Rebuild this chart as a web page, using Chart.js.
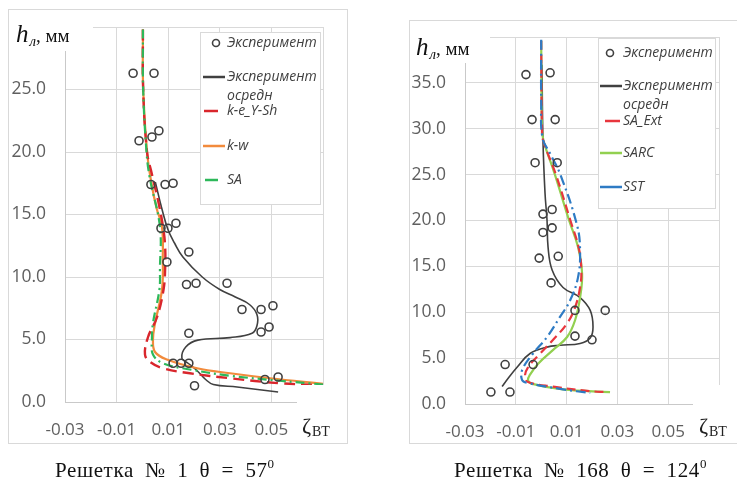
<!DOCTYPE html>
<html>
<head>
<meta charset="utf-8">
<script src="https://cdn.jsdelivr.net/npm/chart.js@4/dist/chart.umd.min.js"></script>
<style>
  html, body { margin: 0; padding: 0; background: #fff; width: 737px; height: 483px; overflow: hidden; }
  canvas { position: absolute; }
  .frame { position: absolute; border: 1px solid #d9d9d9; box-sizing: border-box; pointer-events: none; }
  .cap { position: absolute; top: 460px; line-height: 21px; font-family: "Liberation Serif", serif; font-size: 21px;
         letter-spacing: 0.6px; word-spacing: 5.5px; color: #111; white-space: nowrap; }
  .cap sup { font-size: 13px; line-height: 0; position: relative; top: -1px; }
</style>
</head>
<body>
<canvas id="left" width="339" height="434" style="left:8px;top:9px"></canvas>
<div class="frame" style="left:8px;top:9px;width:340px;height:435px"></div>
<canvas id="right" width="328" height="424" style="left:409px;top:20px"></canvas>
<div class="frame" style="left:409px;top:20px;width:340px;height:424px"></div>
<div class="cap" style="left:55px">Решетка № 1 θ = 57<sup>0</sup></div>
<div class="cap" style="left:454px">Решетка № 168 θ = 124<sup>0</sup></div>

<script>
// ---------- shared axis ticks ----------
const zetaTicks = [-0.03, -0.01, 0.01, 0.03, 0.05, 0.07];
const leftHeightTicks = [0, 5, 10, 15, 20, 25, 30];
const rightHeightTicks = [0, 5, 10, 15, 20, 25, 30, 35, 40];

// ---------- grid No.1, theta = 57 ----------
const leftNames = ['Эксперимент', 'Эксперимент\nосредн', 'k-e_Y-Sh', 'k-w', 'SA'];

const leftExpZeta = [-0.0036, 0.0045, -0.0013, 0.0037, 0.0064, 0.0033, 0.0088, 0.0119, 0.013, 0.0072, 0.0099,
  0.018, 0.0095, 0.0171, 0.0208, 0.0328, 0.0386, 0.046, 0.0506, 0.0491, 0.046, 0.018, 0.0119, 0.015, 0.018,
  0.0475, 0.0526, 0.0202];
const leftExpH = [26.3, 26.3, 20.9, 21.2, 21.7, 17.4, 17.4, 17.5, 14.3, 13.9, 13.9,
  12.0, 11.2, 9.4, 9.5, 9.5, 7.4, 7.4, 7.7, 6.0, 5.6, 5.5, 3.1, 3.1, 3.1,
  1.8, 2.0, 1.3];

const leftAvgZeta = [0.005, 0.0075, 0.0099, 0.0125, 0.0157, 0.0232, 0.030, 0.036, 0.0415, 0.0444, 0.0444, 0.0425,
  0.034, 0.0215, 0.0168, 0.0153, 0.0177, 0.0212, 0.0245, 0.0275, 0.0367, 0.0526];
const leftAvgH = [17.6, 15.5, 13.8, 12.7, 11.6, 10.0, 9.0, 8.4, 7.8, 7.0, 6.1, 5.5,
  5.15, 4.95, 4.4, 3.5, 3.1, 2.5, 1.8, 1.4, 1.2, 0.8];

const keZeta = [0.0002, 0.0003, 0.0018, 0.0036, 0.0062, 0.0080, 0.0088, 0.0088, 0.0082, 0.0057, 0.0022, 0.0010,
  0.0030, 0.0080, 0.0184, 0.034, 0.0533, 0.070];
const keH = [29.8, 25, 20, 18.3, 16, 14, 12.5, 10.6, 9.0, 6.8, 5.2, 3.8,
  3.2, 2.7, 2.3, 1.9, 1.5, 1.35];

const kwZeta = [0.0002, 0.0003, 0.0018, 0.0035, 0.0055, 0.0076, 0.0079, 0.0076, 0.0049, 0.0041, 0.0049,
  0.0095, 0.0212, 0.034, 0.0495, 0.070];
const kwH = [29.8, 25, 20, 17.5, 15.5, 14.0, 11.5, 9.0, 6.3, 5.0, 4.0,
  3.4, 2.7, 2.3, 1.9, 1.45];

const saZeta = [0.0002, 0.0003, 0.0016, 0.0028, 0.0068, 0.0068, 0.0066, 0.0041, 0.0037, 0.0041,
  0.0080, 0.0184, 0.034, 0.0533, 0.070];
const saH = [29.8, 25, 20, 18, 14, 10.6, 9.0, 6.3, 5.0, 3.8,
  3.1, 2.6, 2.1, 1.7, 1.4];

// ---------- grid No.168, theta = 124 ----------
const rightNames = ['Эксперимент', 'Эксперимент\nосредн', 'SA_Ext', 'SARC', 'SST'];

const rightExpZeta = [-0.006, 0.0035, -0.0036, 0.0055, -0.0024, 0.0063, 0.0007, 0.0043, 0.0007, 0.0043,
  -0.0008, 0.0067, 0.0039, 0.0133, 0.0252, 0.0133, 0.020, -0.0142, -0.0032, -0.0198, -0.0123];
const rightExpH = [35.9, 36.1, 31.0, 31.0, 26.3, 26.3, 20.7, 21.2, 18.7, 19.2,
  15.9, 16.1, 13.2, 10.2, 10.2, 7.4, 7.0, 4.3, 4.3, 1.3, 1.3];

const rightAvgZeta = [0.0003, 0.0007, 0.0015, 0.0023, 0.0027, 0.0043, 0.0086, 0.0153, 0.0193, 0.0204, 0.0193,
  0.0153, 0.0074, 0.0023, -0.0044, -0.0095, -0.013, -0.0154];
const rightAvgH = [37, 28.7, 23, 20, 17.1, 14.6, 12.7, 11.6, 10.2, 8.4, 7.2,
  6.6, 6.4, 6.2, 5.5, 4.0, 2.8, 1.9];

const saExtZeta = [0.0, 0.0003, 0.0008, 0.0058, 0.0115, 0.0148, 0.0158, 0.0153, 0.0133, 0.0102, 0.0047,
  -0.0004, -0.0052, -0.0064, -0.0052, 0.0047, 0.0193, 0.026];
const saExtH = [39.6, 30, 28.7, 25, 20, 17, 14.5, 12.7, 10.5, 8.8, 7.0,
  5.5, 4.0, 3.0, 2.4, 1.9, 1.4, 1.3];

const sarcZeta = [0.0, 0.0003, 0.0009, 0.0054, 0.0110, 0.0145, 0.0161, 0.0153, 0.0133, 0.0102, 0.0047,
  -0.0012, -0.0044, -0.0052, -0.0035, 0.0086, 0.0271];
const sarcH = [39.6, 30, 28.7, 25, 20, 17.1, 14.2, 11.6, 9.1, 7.3, 5.9,
  4.4, 3.2, 2.6, 2.2, 1.6, 1.3];

const sstZeta = [0.0, 0.0, 0.0005, 0.0035, 0.0074, 0.0141, 0.0153, 0.0145, 0.0114, 0.0074, 0.0023,
  -0.0032, -0.0075, -0.0075, -0.0055, 0.0086, 0.0193];
const sstH = [39.7, 33, 29, 27.3, 25.1, 19.5, 16.7, 13.8, 11.3, 9.5, 7.3,
  5.5, 3.7, 2.6, 2.3, 1.6, 1.2];

// ---------- helpers ----------
const pairs = (xs, ys) => xs.map((x, i) => ({ x: x, y: ys[i] }));

const INK = '#404040';

function pointSet(label, xs, ys) {
  return {
    label, data: pairs(xs, ys), showLine: false,
    pointStyle: 'circle', pointRadius: 4, pointBorderWidth: 1.6,
    pointBorderColor: INK, pointBackgroundColor: 'rgba(0,0,0,0)', borderColor: INK
  };
}
function lineSet(label, xs, ys, color, dash, width, order) {
  return {
    label, data: pairs(xs, ys), showLine: true, pointRadius: 0,
    borderColor: color, borderWidth: width, borderDash: dash, tension: 0.4,
    fill: false, clip: false, order: order
  };
}

// white label boxes, axis titles and the legend drawn on top
function overlayPlugin(cfg) {
  return {
    id: 'overlay',
    afterDraw(chart) {
      const ctx = chart.ctx;
      const ox = cfg.ox, oy = cfg.oy;
      ctx.save();
      ctx.fillStyle = '#fff';
      // axis title boxes
      ctx.fillRect(cfg.hBox[0] - ox, cfg.hBox[1] - oy, cfg.hBox[2], cfg.hBox[3]);
      ctx.fillRect(cfg.zBox[0] - ox, cfg.zBox[1] - oy, cfg.zBox[2], cfg.zBox[3]);

      // vertical axis title: h_л, мм
      ctx.fillStyle = '#111';
      ctx.textBaseline = 'alphabetic';
      ctx.textAlign = 'left';
      let x = cfg.hText[0] - ox, y = cfg.hText[1] - oy;
      ctx.font = 'italic 25px "Liberation Serif", serif';
      ctx.fillText('h', x, y);
      x += ctx.measureText('h').width + 1;
      ctx.font = 'italic 15px "Liberation Serif", serif';
      ctx.fillText('л', x, y + 4);
      x += ctx.measureText('л').width;
      ctx.font = '19px "Liberation Serif", serif';
      ctx.fillText(', мм', x, y);

      // horizontal axis title: ζ_ВТ
      x = cfg.zText[0] - ox; y = cfg.zText[1] - oy;
      ctx.fillStyle = '#222';
      ctx.font = '22px "Liberation Serif", serif';
      ctx.fillText('ζ', x, y);
      x += ctx.measureText('ζ').width + 1;
      ctx.font = '14px "Liberation Serif", serif';
      ctx.fillText('ВТ', x, y + 3);

      // legend
      const L = cfg.legend;
      ctx.fillStyle = '#fff';
      ctx.fillRect(L.box[0] - ox, L.box[1] - oy, L.box[2], L.box[3]);
      ctx.strokeStyle = '#d9d9d9';
      ctx.lineWidth = 1;
      ctx.strokeRect(L.box[0] - ox + 0.5, L.box[1] - oy + 0.5, L.box[2], L.box[3]);
      const sets = chart.data.datasets;
      L.items.forEach((it) => {
        const ds = sets[it.ds];
        const iy = it.y - oy;
        ctx.save();
        if (it.marker) {
          ctx.beginPath();
          ctx.arc(it.x1 - ox, iy, 3.5, 0, Math.PI * 2);
          ctx.strokeStyle = ds.pointBorderColor;
          ctx.lineWidth = 1.6;
          ctx.stroke();
        } else {
          ctx.beginPath();
          ctx.setLineDash(it.dash || []);
          ctx.moveTo(it.x1 - ox, iy);
          ctx.lineTo(it.x2 - ox, iy);
          ctx.strokeStyle = ds.borderColor;
          ctx.lineWidth = 2.5;
          ctx.stroke();
        }
        ctx.restore();
        ctx.fillStyle = INK;
        ctx.font = 'italic 14px "Open Sans", sans-serif';
        ctx.textBaseline = 'middle';
        String(ds.label).split('\n').forEach((line, k) => {
          ctx.fillText(line, L.textX - ox, iy + k * 19);
        });
      });
      ctx.restore();
    }
  };
}

function buildChart(id, datasets, hTicks, area, overlay) {
  const hMax = hTicks[hTicks.length - 1];
  return new Chart(document.getElementById(id), {
    type: 'scatter',
    data: { datasets },
    options: {
      responsive: false,
      animation: false,
      events: [],
      layout: { padding: { left: 0, top: area.top, right: area.right, bottom: 0 } },
      plugins: { legend: { display: false }, tooltip: { enabled: false } },
      scales: {
        x: {
          type: 'linear', min: zetaTicks[0], max: zetaTicks[zetaTicks.length - 1],
          afterBuildTicks: s => { s.ticks = zetaTicks.map(v => ({ value: v })); },
          afterFit: s => { s.height = area.xh; s.paddingLeft = 0; s.paddingRight = 0; },
          grid: { color: '#d9d9d9', lineWidth: 1, drawTicks: false },
          border: { color: '#c9c9c9', width: 1 },
          ticks: {
            padding: 18, color: '#5f5f5f', maxRotation: 0, autoSkip: false,
            font: { family: '"Open Sans", sans-serif', size: 17 },
            callback: v => (v === zetaTicks[zetaTicks.length - 1] ? '' : v.toFixed(2))
          }
        },
        y: {
          type: 'linear', min: 0, max: hMax,
          afterBuildTicks: s => { s.ticks = hTicks.map(v => ({ value: v })); },
          afterFit: s => { s.width = area.yw; s.paddingTop = 0; s.paddingBottom = 0; },
          grid: { color: '#d9d9d9', lineWidth: 1, drawTicks: false },
          border: { color: '#c9c9c9', width: 1 },
          ticks: {
            padding: 19, color: '#5f5f5f',
            font: { family: '"Open Sans", sans-serif', size: 17.5 },
            callback: v => (v === hMax ? '' : v.toFixed(1))
          }
        }
      }
    },
    plugins: [overlayPlugin(overlay)]
  });
}

// ---------- left chart ----------
buildChart('left', [
  pointSet(leftNames[0], leftExpZeta, leftExpH),
  lineSet(leftNames[1], leftAvgZeta, leftAvgH, '#404040', [], 1.6, 5),
  lineSet(leftNames[2], keZeta, keH, '#d9262c', [11, 6], 2.4, 3),
  lineSet(leftNames[3], kwZeta, kwH, '#f28b3c', [], 2.2, 4),
  lineSet(leftNames[4], saZeta, saH, '#2db85a', [9, 4, 2, 4], 2.2, 2)
], leftHeightTicks, { top: 18, right: 24, yw: 57, xh: 41 }, {
  ox: 8, oy: 9,
  hBox: [9, 10, 84, 41], zBox: [297, 385, 50, 58],
  hText: [16, 42], zText: [302, 433],
  legend: {
    box: [200, 32, 120, 172], textX: 227,
    items: [
      { ds: 0, marker: true, x1: 216, y: 43 },
      { ds: 1, x1: 203, x2: 225, y: 77 },
      { ds: 2, x1: 204, x2: 218, y: 111 },
      { ds: 3, x1: 203, x2: 225, y: 146 },
      { ds: 4, x1: 205, x2: 218, y: 180 }
    ]
  }
});

// ---------- right chart ----------
buildChart('right', [
  pointSet(rightNames[0], rightExpZeta, rightExpH),
  lineSet(rightNames[1], rightAvgZeta, rightAvgH, '#404040', [], 1.6, 5),
  lineSet(rightNames[2], saExtZeta, saExtH, '#e8363d', [9, 5], 2.2, 3),
  lineSet(rightNames[3], sarcZeta, sarcH, '#92d050', [], 2.2, 4),
  lineSet(rightNames[4], sstZeta, sstH, '#2e7bc4', [10, 4, 2, 4], 2.2, 2)
], rightHeightTicks, { top: 17, right: 18, yw: 56, xh: 40 }, {
  ox: 409, oy: 20,
  hBox: [410, 21, 80, 42], zBox: [693, 385, 44, 58],
  hText: [416, 55], zText: [699, 433],
  legend: {
    box: [598, 38, 117, 170], textX: 623,
    items: [
      { ds: 0, marker: true, x1: 610, y: 53 },
      { ds: 1, x1: 600, x2: 622, y: 86 },
      { ds: 2, x1: 605, x2: 620, y: 121 },
      { ds: 3, x1: 600, x2: 622, y: 153 },
      { ds: 4, x1: 600, x2: 622, y: 187 }
    ]
  }
});
</script>
</body>
</html>
